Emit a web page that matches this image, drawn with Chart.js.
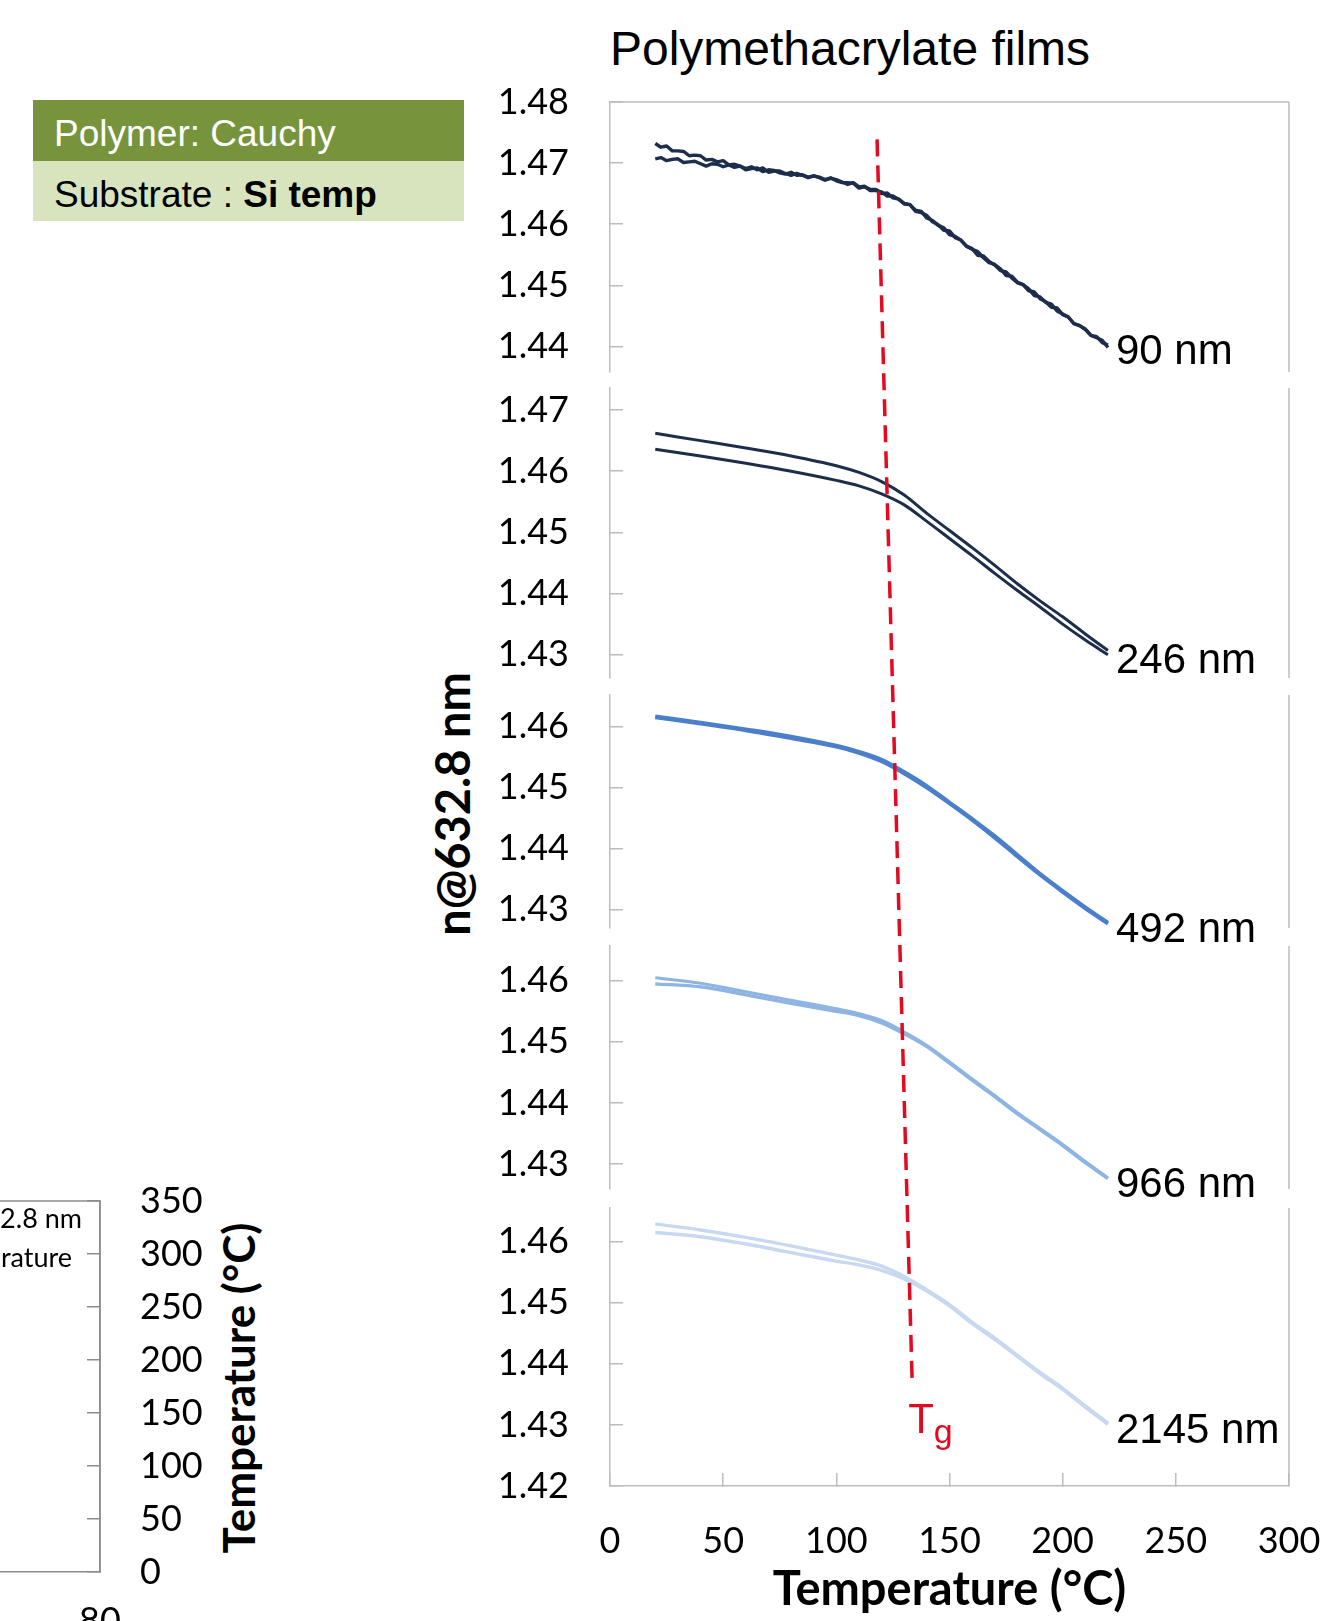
<!DOCTYPE html>
<html>
<head>
<meta charset="utf-8">
<title>Polymethacrylate films</title>
<script src="https://cdn.jsdelivr.net/npm/chart.js@4.4.1/dist/chart.umd.min.js"></script>
<style>
  html, body { margin: 0; padding: 0; background: #fff; }
  body { position: relative; width: 1343px; height: 1621px; overflow: hidden; font-family: Lato, sans-serif; }
  canvas { position: absolute; }
  #title { position: absolute; left: 850px; top: 25px; transform: translateX(-50%); font: 48px "Liberation Sans", Arial, sans-serif; line-height: 1; white-space: nowrap; color: #000; }
  #infoBox { position: absolute; left: 33px; top: 100px; width: 431px; font: 37px "Liberation Sans", Arial, sans-serif; }
  #infoBox div { display: flex; align-items: center; padding-left: 21px; padding-top: 7px; box-sizing: border-box; }
  #infoBox .model { height: 61px; background: #77933c; color: #fff; }
  #infoBox .substrate { height: 60px; background: #d7e4bd; color: #000; }
  .vtitle { position: absolute; transform: translate(-50%, -50%) rotate(-90deg); font-weight: 700; white-space: nowrap; color: #000; line-height: 1; }
  #nTitle { left: 452px; top: 804px; font-size: 47px; }
  #sideTitle { left: 238px; top: 1388px; font-size: 44px; }
</style>
</head>
<body>
<div id="title">Polymethacrylate films</div>
<div id="infoBox">
  <div class="model">Polymer: Cauchy</div>
  <div class="substrate">Substrate :&nbsp;<b>Si temp</b></div>
</div>
<div id="nTitle" class="vtitle">n@632.8 nm</div>
<div id="sideTitle" class="vtitle">Temperature (°C)</div>

<script>
// --- data ---------------------------------------------------------------

// 90 nm film, two temperature ramps (noisy)
const tempFine = [
  20, 22.5, 25, 27.5, 30, 32.5, 35, 37.5, 40, 42.5,
  45, 47.5, 50, 52.5, 55, 57.5, 60, 62.5, 65, 67.5,
  70, 72.5, 75, 77.5, 80, 82.5, 85, 87.5, 90, 92.5,
  95, 97.5, 100, 102.5, 105, 107.5, 110, 112.5, 115, 117.5,
  120, 122.5, 125, 127.5, 130, 132.5, 135, 137.5, 140, 142.5,
  145, 147.5, 150, 152.5, 155, 157.5, 160, 162.5, 165, 167.5,
  170, 172.5, 175, 177.5, 180, 182.5, 185, 187.5, 190, 192.5,
  195, 197.5, 200, 202.5, 205, 207.5, 210, 212.5, 215, 217.5,
  220
]
const n90A = [
  1.4732, 1.4726, 1.4728, 1.4720, 1.4720, 1.4719, 1.4712, 1.4713, 1.4712, 1.4705,
  1.4706, 1.4702, 1.4704, 1.4697, 1.4698, 1.4695, 1.4691, 1.4694, 1.4689, 1.4692,
  1.4685, 1.4687, 1.4687, 1.4683, 1.4680, 1.4683, 1.4680, 1.4676, 1.4679, 1.4677,
  1.4673, 1.4676, 1.4671, 1.4668, 1.4668, 1.4667, 1.4659, 1.4661, 1.4657, 1.4657,
  1.4650, 1.4651, 1.4643, 1.4641, 1.4634, 1.4632, 1.4621, 1.4619, 1.4614, 1.4604,
  1.4599, 1.4590, 1.4589, 1.4578, 1.4574, 1.4564, 1.4560, 1.4549, 1.4548, 1.4539,
  1.4533, 1.4524, 1.4522, 1.4512, 1.4504, 1.4501, 1.4494, 1.4483, 1.4481, 1.4472,
  1.4469, 1.4458, 1.4453, 1.4448, 1.4437, 1.4434, 1.4428, 1.4418, 1.4414, 1.4410,
  1.4398
]
const n90B = [
  1.4707, 1.4709, 1.4704, 1.4706, 1.4707, 1.4701, 1.4702, 1.4703, 1.4699, 1.4695,
  1.4699, 1.4698, 1.4694, 1.4697, 1.4693, 1.4695, 1.4689, 1.4691, 1.4692, 1.4686,
  1.4689, 1.4688, 1.4684, 1.4682, 1.4685, 1.4680, 1.4681, 1.4677, 1.4679, 1.4676,
  1.4672, 1.4675, 1.4673, 1.4669, 1.4665, 1.4668, 1.4661, 1.4662, 1.4655, 1.4655,
  1.4653, 1.4646, 1.4646, 1.4641, 1.4633, 1.4632, 1.4623, 1.4621, 1.4610, 1.4606,
  1.4598, 1.4594, 1.4583, 1.4580, 1.4574, 1.4564, 1.4559, 1.4555, 1.4545, 1.4537,
  1.4534, 1.4527, 1.4516, 1.4515, 1.4505, 1.4501, 1.4491, 1.4489, 1.4478, 1.4473,
  1.4464, 1.4463, 1.4452, 1.4448, 1.4437, 1.4434, 1.4428, 1.4418, 1.4416, 1.4406,
  1.4402
]

// thicker films
const tempCoarse = [20, 40, 60, 80, 100, 110, 120, 130, 140, 150, 160, 170, 180, 190, 200, 210, 220]
const n246A = [1.4662, 1.4650, 1.4638, 1.4625, 1.4609, 1.4598, 1.4583, 1.4561, 1.4531, 1.4503, 1.4475, 1.4446, 1.4416, 1.4388, 1.4362, 1.4334, 1.4307]
const n246B = [1.4636, 1.4625, 1.4613, 1.4600, 1.4585, 1.4576, 1.4563, 1.4545, 1.4518, 1.4490, 1.4462, 1.4433, 1.4405, 1.4378, 1.4350, 1.4324, 1.4300]
const n492A = [1.4617, 1.4607, 1.4596, 1.4584, 1.4569, 1.4559, 1.4546, 1.4526, 1.4503, 1.4476, 1.4449, 1.4421, 1.4390, 1.4359, 1.4331, 1.4304, 1.4279]
const n492B = [1.4615, 1.4605, 1.4594, 1.4581, 1.4567, 1.4557, 1.4543, 1.4523, 1.4500, 1.4474, 1.4447, 1.4418, 1.4387, 1.4357, 1.4329, 1.4302, 1.4277]
const n966A = [1.4605, 1.4596, 1.4582, 1.4568, 1.4554, 1.4546, 1.4535, 1.4516, 1.4494, 1.4467, 1.4439, 1.4412, 1.4384, 1.4358, 1.4332, 1.4304, 1.4277]
const n966B = [1.4595, 1.4590, 1.4577, 1.4563, 1.4550, 1.4543, 1.4531, 1.4513, 1.4492, 1.4465, 1.4437, 1.4410, 1.4382, 1.4356, 1.4330, 1.4302, 1.4276]
const n2145A = [1.4629, 1.4619, 1.4607, 1.4593, 1.4578, 1.4570, 1.4560, 1.4543, 1.4521, 1.4497, 1.4468, 1.4442, 1.4414, 1.4386, 1.4360, 1.4331, 1.4303]
const n2145B = [1.4615, 1.4608, 1.4596, 1.4582, 1.4568, 1.4562, 1.4553, 1.4539, 1.4519, 1.4495, 1.4466, 1.4440, 1.4412, 1.4384, 1.4358, 1.4329, 1.4301]

const filmLabels = ['90 nm', '246 nm', '492 nm', '966 nm', '2145 nm']
const panelRanges = [[1.4358, 1.4800], [1.4262, 1.4736], [1.4270, 1.4652], [1.4259, 1.4657], [1.4200, 1.4655]]
const panelTicks = [
  [1.44, 1.45, 1.46, 1.47, 1.48],
  [1.43, 1.44, 1.45, 1.46, 1.47],
  [1.43, 1.44, 1.45, 1.46],
  [1.43, 1.44, 1.45, 1.46],
  [1.42, 1.43, 1.44, 1.45, 1.46]
]
const tempTicks = [0, 50, 100, 150, 200, 250, 300]

// Tg guide: temperature at its two ends, depth as fraction of the stack height
const tgTemp = [118, 133.5]
const tgDepth = [0.027, 0.924]

// neighbouring plot (only its right edge is on the page)
const sideLegend = ['n@632.8 nm', 'Temperature']
const sideTempTicks = [0, 50, 100, 150, 200, 250, 300, 350]
const sideTimeTicks = [0, 20, 40, 60, 80]

// --- layout / style -----------------------------------------------------

const PAGE_W = 1343, PAGE_H = 1621
const PLOT_LEFT = 610, PLOT_RIGHT = 1289
const PX_PER_UNIT = 6110          // pixels per refractive index unit, same in every panel
const panelTop = [102, 388, 695, 946, 1208]
const PAD = 80                    // room above/below each plot area for the end tick labels
const RIGHT_PAD = 100
const GREY = '#bdbdbd'
const TG_RED = '#e30a20'
const tickFont = { family: 'Lato', size: 36 }

const panels = [
  { temps: tempFine, series: [n90A, n90B], color: '#1c2e4b', width: 3.4, smooth: false },
  { temps: tempCoarse, series: [n246A, n246B], color: '#1c2e4b', width: 3, smooth: true },
  { temps: tempCoarse, series: [n492A, n492B], color: '#4a7fcb', width: 3.6, smooth: true },
  { temps: tempCoarse, series: [n966A, n966B], color: '#8db4e2', width: 3.2, smooth: true },
  { temps: tempCoarse, series: [n2145A, n2145B], color: '#c6d9f1', width: 3.4, smooth: true }
]

function makeCanvas(left, top, w, h) {
  const cv = document.createElement('canvas')
  cv.width = Math.round(w)
  cv.height = Math.round(h)
  cv.style.left = left + 'px'
  cv.style.top = top + 'px'
  cv.style.width = Math.round(w) + 'px'
  cv.style.height = Math.round(h) + 'px'
  document.body.appendChild(cv)
  return cv
}

// right edge (and optional top edge) of a panel box
const panelFrame = {
  id: 'panelFrame',
  afterDraw(chart, args, opts) {
    const { ctx, chartArea: a } = chart
    ctx.save()
    ctx.strokeStyle = opts.color || GREY
    ctx.lineWidth = 1.5
    ctx.beginPath()
    ctx.moveTo(a.right, a.top)
    ctx.lineTo(a.right, a.bottom)
    if (opts.top) {
      ctx.moveTo(a.left, a.top)
      ctx.lineTo(a.right, a.top)
    }
    ctx.stroke()
    ctx.restore()
  }
}

// film thickness written next to the end of the curve
const endLabel = {
  id: 'endLabel',
  afterDatasetsDraw(chart, args, opts) {
    const pts = chart.getDatasetMeta(1).data
    const end = pts[pts.length - 1]
    const { ctx } = chart
    ctx.save()
    ctx.font = '42px "Liberation Sans", Arial, sans-serif'
    ctx.fillStyle = '#000'
    ctx.textBaseline = 'middle'
    ctx.fillText(opts.text, end.x + 8, end.y + 7)
    ctx.restore()
  }
}

panels.forEach((p, i) => {
  const last = i === panels.length - 1
  const [yMin, yMax] = panelRanges[i]
  const h = (yMax - yMin) * PX_PER_UNIT
  const xAxisH = last ? PAGE_H - (panelTop[i] + h) : 0
  const cv = makeCanvas(0, panelTop[i] - PAD, PLOT_RIGHT + RIGHT_PAD, PAD + h + (last ? xAxisH : PAD))

  new Chart(cv, {
    type: 'line',
    data: {
      datasets: p.series.map(s => ({
        data: p.temps.map((t, k) => ({ x: t, y: s[k] })),
        borderColor: p.color,
        borderWidth: p.width,
        pointRadius: 0,
        borderJoinStyle: 'round',
        cubicInterpolationMode: p.smooth ? 'monotone' : 'default',
        tension: 0
      }))
    },
    options: {
      responsive: false,
      animation: false,
      events: [],
      layout: { padding: { top: PAD, bottom: last ? 0 : PAD, left: 0, right: RIGHT_PAD } },
      plugins: {
        legend: { display: false },
        tooltip: { enabled: false },
        panelFrame: { top: i === 0 },
        endLabel: { text: filmLabels[i] }
      },
      scales: {
        x: {
          type: 'linear',
          min: 0,
          max: 300,
          display: last,
          afterBuildTicks: s => { s.ticks = tempTicks.map(v => ({ value: v })) },
          afterFit: s => { s.height = xAxisH },
          grid: { drawOnChartArea: false, tickLength: -13, color: GREY, lineWidth: 1.5 },
          border: { color: GREY, width: 1.5 },
          ticks: { font: tickFont, color: '#000', padding: 47, maxRotation: 0, autoSkip: false },
          title: {
            display: true,
            text: 'Temperature (°C)',
            color: '#000',
            font: { family: 'Lato', size: 47, weight: 'bold' },
            padding: { top: 3, bottom: 3 }
          }
        },
        y: {
          min: yMin,
          max: yMax,
          afterBuildTicks: s => { s.ticks = panelTicks[i].map(v => ({ value: v })) },
          afterFit: s => { s.width = PLOT_LEFT },
          grid: { drawOnChartArea: false, tickLength: -13, color: GREY, lineWidth: 1.5 },
          border: { color: GREY, width: 1.5 },
          ticks: { font: tickFont, color: '#000', padding: 54, autoSkip: false, callback: v => v.toFixed(2) }
        }
      }
    },
    plugins: [panelFrame, endLabel]
  })
})

// --- the dashed Tg line over the whole stack ------------------------------

const stackBottom = panelTop[4] + (panelRanges[4][1] - panelRanges[4][0]) * PX_PER_UNIT

const tgLabel = {
  id: 'tgLabel',
  afterDatasetsDraw(chart) {
    const pts = chart.getDatasetMeta(0).data
    const end = pts[pts.length - 1]
    const { ctx } = chart
    ctx.save()
    ctx.fillStyle = TG_RED
    ctx.textBaseline = 'alphabetic'
    ctx.font = '42px "Liberation Sans", Arial, sans-serif'
    const x0 = end.x - 4
    ctx.fillText('T', x0, end.y + 52)
    const w = ctx.measureText('T').width
    ctx.font = '34px "Liberation Sans", Arial, sans-serif'
    ctx.fillText('g', x0 + w, end.y + 62)
    ctx.restore()
  }
}

const overlay = makeCanvas(0, 0, PAGE_W, PAGE_H)
overlay.style.pointerEvents = 'none'
new Chart(overlay, {
  type: 'line',
  data: {
    datasets: [{
      data: tgTemp.map((t, k) => ({ x: t, y: tgDepth[k] })),
      borderColor: TG_RED,
      borderWidth: 3.5,
      borderDash: [17, 9],
      pointRadius: 0
    }]
  },
  options: {
    responsive: false,
    animation: false,
    events: [],
    layout: { padding: { left: PLOT_LEFT, right: PAGE_W - PLOT_RIGHT, top: panelTop[0], bottom: PAGE_H - stackBottom } },
    plugins: { legend: { display: false }, tooltip: { enabled: false } },
    scales: {
      x: { type: 'linear', min: 0, max: 300, display: false },
      y: { min: 0, max: 1, reverse: true, display: false }
    }
  },
  plugins: [tgLabel]
})

// --- neighbouring temperature plot, cut by the page edge ---------------------

const sideLegendText = {
  id: 'sideLegendText',
  afterDraw(chart) {
    const { ctx, chartArea: a } = chart
    const insets = [18, 28]
    const rows = [18, 57]
    ctx.save()
    ctx.font = '27px Lato'
    ctx.fillStyle = '#000'
    ctx.textAlign = 'right'
    ctx.textBaseline = 'middle'
    chart.data.datasets.forEach((ds, k) => {
      ctx.fillText(ds.label, a.right - insets[k], a.top + rows[k])
    })
    ctx.restore()
  }
}

const SIDE_TOP = 1201, SIDE_BOTTOM = 1572, SIDE_RIGHT = 100, SIDE_W = 620, SIDE_AXIS_W = 240
const sideCv = makeCanvas(SIDE_RIGHT - SIDE_W, SIDE_TOP - PAD, SIDE_W + SIDE_AXIS_W, PAD + (SIDE_BOTTOM - SIDE_TOP) + 80)
new Chart(sideCv, {
  type: 'line',
  data: {
    datasets: sideLegend.map(label => ({ label, data: [], borderColor: '#000', pointRadius: 0 }))
  },
  options: {
    responsive: false,
    animation: false,
    events: [],
    layout: { padding: { top: PAD, bottom: 0, left: 0, right: 0 } },
    plugins: { legend: { display: false }, tooltip: { enabled: false }, panelFrame: { top: true, color: '#8c8c8c' } },
    scales: {
      x: {
        type: 'linear',
        min: 0,
        max: 80,
        afterBuildTicks: s => { s.ticks = sideTimeTicks.map(v => ({ value: v })) },
        afterFit: s => { s.height = 80 },
        grid: { drawOnChartArea: false, drawTicks: false },
        border: { color: '#8c8c8c', width: 1.5 },
        ticks: { font: tickFont, color: '#000', padding: 28, maxRotation: 0, autoSkip: false }
      },
      y: {
        position: 'right',
        min: 0,
        max: 350,
        afterBuildTicks: s => { s.ticks = sideTempTicks.map(v => ({ value: v })) },
        afterFit: s => { s.width = SIDE_AXIS_W },
        grid: { drawOnChartArea: false, tickLength: -13, color: '#8c8c8c', lineWidth: 1.5 },
        border: { color: '#8c8c8c', width: 1.5 },
        ticks: { font: tickFont, color: '#000', padding: 53, autoSkip: false }
      }
    }
  },
  plugins: [panelFrame, sideLegendText]
})
</script>
</body>
</html>
